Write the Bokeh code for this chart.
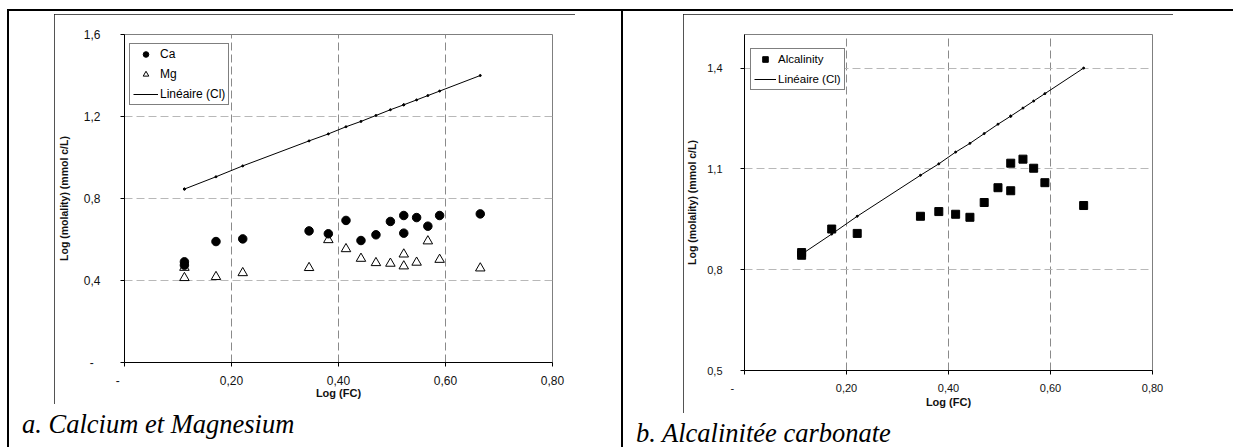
from bokeh.plotting import figure
from bokeh.models import Range1d, FixedTicker, Legend, LegendItem, Div
from bokeh.layouts import row, column
from bokeh.embed import file_html
from bokeh.resources import INLINE

# ---------------- data ----------------
log_fc = [0.112, 0.112, 0.171, 0.221, 0.345, 0.381, 0.414, 0.442, 0.470,
          0.497, 0.522, 0.522, 0.546, 0.567, 0.589, 0.665]
ca = [0.491, 0.475, 0.590, 0.603, 0.642, 0.628, 0.693, 0.595, 0.623,
      0.688, 0.717, 0.631, 0.707, 0.665, 0.717, 0.725]
mg = [0.463, 0.413, 0.418, 0.437, 0.462, 0.598, 0.554, 0.507, 0.486,
      0.483, 0.528, 0.470, 0.488, 0.592, 0.502, 0.460]
alcalinity = [0.851, 0.843, 0.921, 0.908, 0.959, 0.973, 0.965, 0.956, 1.000,
              1.044, 1.117, 1.035, 1.129, 1.102, 1.059, 0.991]
cl_linear = [0.846, 0.846, 0.906, 0.959, 1.081, 1.115, 1.150, 1.176, 1.205,
             1.233, 1.257, 1.257, 1.281, 1.302, 1.324, 1.400]

x_ticks = [0, 0.2, 0.4, 0.6, 0.8]
x_tick_labels = ["-", "0,20", "0,40", "0,60", "0,80"]
ya_ticks = [0, 0.4, 0.8, 1.2, 1.6]
ya_tick_labels = ["-", "0,4", "0,8", "1,2", "1,6"]
yb_ticks = [0.5, 0.8, 1.1, 1.4]
yb_tick_labels = ["0,5", "0,8", "1,1", "1,4"]

x_title = "Log (FC)"
y_title = "Log (molality) (mmol c/L)"
caption_a = "a. Calcium et Magnesium"
caption_b = "b. Alcalinitée carbonate"

SANS = "Liberation Sans"
NB = "\u00a0"


def base_chart(width, height, borders, yr, yticks, ylabels, fs,
               x_dash_pad, y_dash_pad, ystand, ylab_stand, xlab_stand, margin):
    p = figure(width=width, height=height,
               x_range=Range1d(0, 0.8), y_range=Range1d(*yr),
               output_backend="svg", toolbar_location=None,
               min_border_left=borders[0], min_border_right=borders[1],
               min_border_top=borders[2], min_border_bottom=borders[3],
               margin=margin,
               styles={"outline": "1px solid #1a1a1a", "outline-offset": "-1px"})
    p.background_fill_color = "white"
    p.border_fill_color = "white"
    p.outline_line_color = "#7f7f7f"
    p.outline_line_width = 1

    xt = FixedTicker(ticks=x_ticks)
    yt = FixedTicker(ticks=yticks)
    xl = [lab + (NB * x_dash_pad if lab == "-" else "") for lab in x_tick_labels]
    yl = [lab + (NB * y_dash_pad if lab == "-" else "") for lab in ylabels]

    for ax, tk, labs, tv in ((p.xaxis, xt, xl, x_ticks), (p.yaxis, yt, yl, yticks)):
        ax.ticker = tk
        ax.major_label_overrides = dict(zip(tv, labs))
        ax.axis_line_color = "black"
        ax.axis_line_width = 1
        ax.major_tick_line_color = "black"
        ax.major_tick_out = 4
        ax.major_tick_in = 0
        ax.minor_tick_out = 0
        ax.minor_tick_in = 0
        ax.major_label_text_font = SANS
        ax.major_label_text_font_size = fs
        ax.major_label_text_color = "#111111"
        ax.axis_label_text_font = SANS
        ax.axis_label_text_font_style = "bold"
        ax.axis_label_text_color = "#111111"

    p.xaxis.major_label_standoff = 7
    p.yaxis.major_label_standoff = ystand
    p.xaxis.axis_label = x_title
    p.xaxis.axis_label_text_font_size = "11px"
    p.xaxis.axis_label_standoff = xlab_stand
    p.yaxis.axis_label = y_title
    p.yaxis.axis_label_text_font_size = "10.5px"
    p.yaxis.axis_label_standoff = ylab_stand

    p.xgrid.ticker = xt
    p.ygrid.ticker = yt
    p.xgrid.grid_line_color = "#8a8a8a"
    p.xgrid.grid_line_dash = "8 4"
    p.ygrid.grid_line_color = "#b8b8b8"
    p.ygrid.grid_line_dash = "8 4"
    return p


def style_legend(lg, fs, gw):
    lg.border_line_color = "black"
    lg.border_line_width = 1
    lg.background_fill_color = "white"
    lg.background_fill_alpha = 1
    lg.label_text_font = SANS
    lg.label_text_font_size = fs
    lg.label_text_color = "black"
    lg.padding = 3
    lg.spacing = 6
    lg.margin = 0
    lg.glyph_height = 14
    lg.label_height = 14
    lg.glyph_width = gw
    lg.label_standoff = 2


def caption_div(text, width, height, margin):
    html = ('<div style="font-family: \'Liberation Serif\', serif; font-style: italic; '
            'font-size: 26.5px; line-height: %dpx; color: #000; white-space: nowrap;">%s</div>'
            % (height, text))
    return Div(text=html, width=width, height=height, margin=margin)


# ---------------- chart a ----------------
pa = base_chart(521, 390, (67, 23, 20, 42), (0, 1.6), ya_ticks, ya_tick_labels, "12px",
                x_dash_pad=4, y_dash_pad=2, ystand=20, ylab_stand=11, xlab_stand=-4,
                margin=(5, 0, 0, 47))
r_cl_a = pa.line(log_fc, cl_linear, line_color="black", line_width=1)
pa.scatter(log_fc, cl_linear, marker="circle", size=2, color="black")
r_ca = pa.scatter(log_fc, ca, marker="circle", size=8.5, fill_color="black", line_color="black")
r_mg = pa.scatter(log_fc, mg, marker="triangle", size=9.5, fill_alpha=0, line_color="black", line_width=1)
lga = Legend(items=[LegendItem(label="Ca", renderers=[r_ca]),
                    LegendItem(label="Mg", renderers=[r_mg]),
                    LegendItem(label="Linéaire (Cl)", renderers=[r_cl_a])],
             location=(5, 257))
style_legend(lga, "12px", 25)
pa.add_layout(lga)

cap_a = caption_div(caption_a, 400, 30, (5, 0, 0, 15))
cell_a = column(pa, cap_a, width=615, height=438,
                styles={"box-shadow": "inset 0 2px 0 0 #000, inset 2px 0 0 0 #000, inset -1px 0 0 0 #000"})

# ---------------- chart b ----------------
pb = base_chart(490, 399, (59, 21, 20, 43), (0.5, 1.5), yb_ticks, yb_tick_labels, "11px",
                x_dash_pad=8, y_dash_pad=2, ystand=18, ylab_stand=6, xlab_stand=-1,
                margin=(5, 0, 0, 61))
r_cl_b = pb.line(log_fc, cl_linear, line_color="black", line_width=1)
pb.scatter(log_fc, cl_linear, marker="circle", size=2, color="black")
r_alk = pb.scatter(log_fc, alcalinity, marker="square", size=8, fill_color="black", line_color="black")
lgb = Legend(items=[LegendItem(label="Alcalinity", renderers=[r_alk]),
                    LegendItem(label="Linéaire (Cl)", renderers=[r_cl_b])],
             location=(6, 280))
style_legend(lgb, "11.5px", 22)
pb.add_layout(lgb)

cap_b = caption_div(caption_b, 400, 28, (6, 0, 0, 14))
cell_b = column(pb, cap_b, width=611, height=438,
                styles={"box-shadow": "inset 0 2px 0 0 #000, inset 1px 0 0 0 #000"})

layout = row(cell_a, cell_b, margin=(9, 0, 0, 7))
open("out.html", "w").write(file_html(layout, INLINE))
